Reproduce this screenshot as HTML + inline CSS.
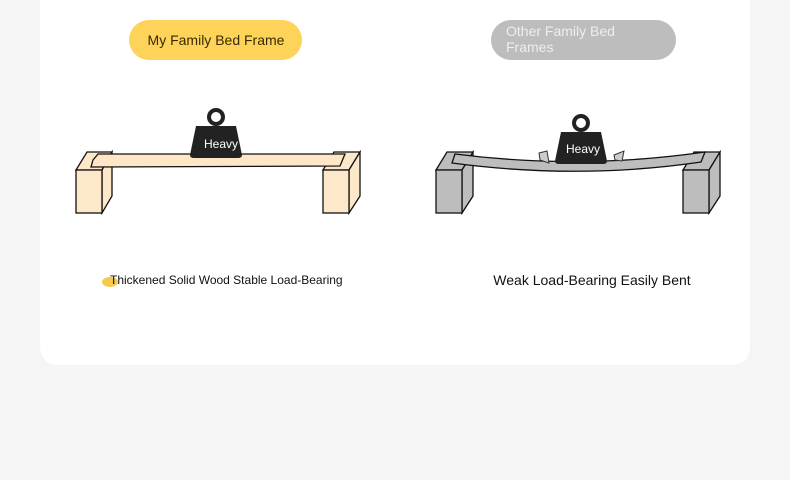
<!DOCTYPE html>
<html><head><style>
body{margin:0;width:790px;height:480px;background:#f5f5f5;font-family:"Liberation Sans",sans-serif;overflow:hidden}
</style></head><body>
<svg width="790" height="480" xmlns="http://www.w3.org/2000/svg" style="position:absolute;left:0;top:0">
<path d="M40 0 H750 V345 Q750 365 730 365 H60 Q40 365 40 345 Z" fill="#fff"/>
<rect x="129" y="20" width="173" height="40" rx="20" fill="#fdd35a"/>
<text x="216" y="45" font-size="14" text-anchor="middle" fill="#3a2a00" font-family="Liberation Sans">My Family Bed Frame</text>
<rect x="491" y="20" width="185" height="40" rx="20" fill="#bdbdbd"/>
<text x="506" y="36" font-size="14" fill="#eee">Other Family Bed</text>
<text x="506" y="52" font-size="14" fill="#eee">Frames</text>
<g stroke="#111" stroke-width="1.3" fill="#fde9c9">
<polygon points="76,170 87,152 112,152 102,170"/>
<polygon points="102,170 112,152 112,196 102,213"/>
<rect x="76" y="170" width="26" height="43"/>
<polygon points="323,170 334,152 360,152 349,170"/>
<polygon points="349,170 360,152 360,196 349,213"/>
<rect x="323" y="170" width="26" height="43"/>
<polygon points="93,160 98,154 345,154 340,166 91,167" fill="#fee6c6"/>
</g>
<path d="M196 126 L236 126 L242 155 Q242 158 238 158 L194 158 Q190 158 190 155 Z" fill="#222"/>
<circle cx="216" cy="117" r="7" fill="none" stroke="#222" stroke-width="4"/>
<text x="204" y="148" font-size="12" fill="#fff">Heavy</text>
<g stroke="#111" stroke-width="1.3" fill="#bdbdbd">
<polygon points="436,170 447,152 473,152 462,170"/>
<polygon points="462,170 473,152 473,196 462,213"/>
<rect x="436" y="170" width="26" height="43"/>
<polygon points="683,170 694,152 720,152 709,170"/>
<polygon points="709,170 720,152 720,196 709,213"/>
<rect x="683" y="170" width="26" height="43"/>
<path d="M455 154 Q580 170 705 152 L701 162 Q580 180 452 163 Z"/>
</g>
<path d="M561 132 L601 132 L607 161 Q607 164 603 164 L559 164 Q555 164 555 161 Z" fill="#222"/>
<circle cx="581" cy="123" r="7" fill="none" stroke="#222" stroke-width="4"/>
<text x="566" y="153" font-size="12" fill="#fff">Heavy</text>
<g stroke="#333" fill="#ccc" stroke-width="1"><polygon points="539,153 547,151 549,163 540,160"/><polygon points="614,155 624,151 622,161 615,160"/></g>
<ellipse cx="110" cy="282" rx="8" ry="5" fill="#f5c850"/>
<text x="110" y="284" font-size="12" fill="#111">Thickened Solid Wood Stable Load-Bearing</text>
<text x="592" y="285" font-size="14" text-anchor="middle" fill="#111">Weak Load-Bearing Easily Bent</text>
</svg>
</body></html>
